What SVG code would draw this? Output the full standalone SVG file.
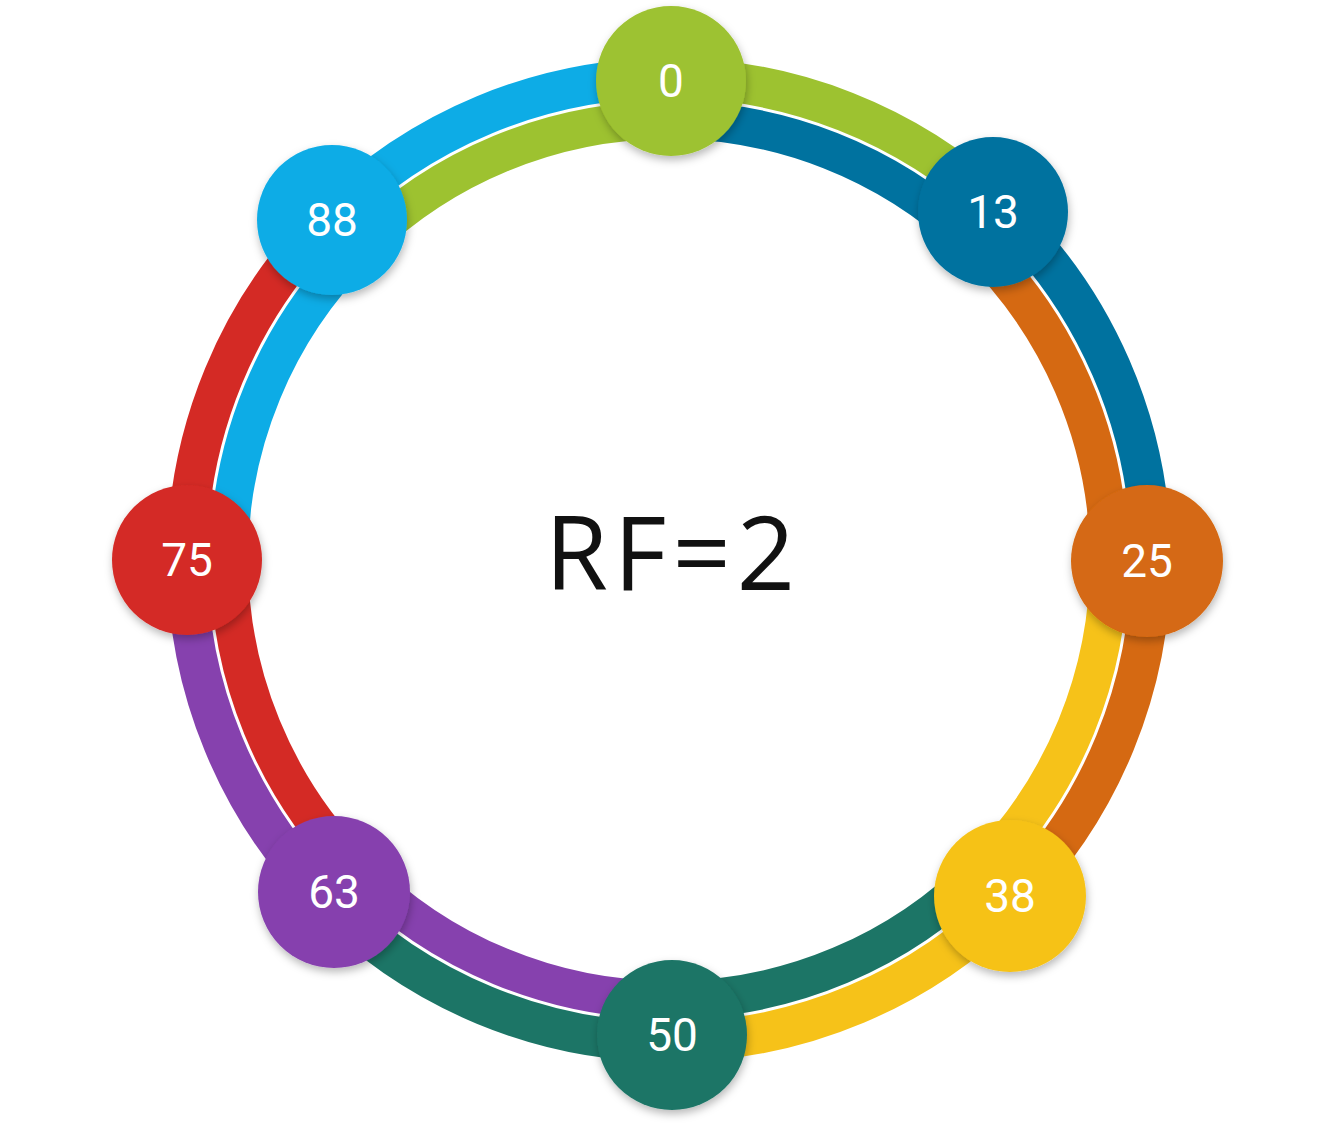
<svg xmlns="http://www.w3.org/2000/svg" width="1320" height="1131" viewBox="0 0 1320 1131">
  <style>
    .o { fill: none; stroke-width: 40; }
    .i { fill: none; stroke-width: 38; }
    .node { filter: url(#sh); }
    .lbl { font-family: Roboto, "Liberation Sans", sans-serif; font-size: 46px; fill: #ffffff; text-anchor: middle; }
    .title { font-family: "Open Sans", "Noto Sans", sans-serif; font-size: 102px; fill: #111111; text-anchor: middle; letter-spacing: 6px; }
  </style>
  <defs>
    <filter id="sh" x="-30%" y="-30%" width="160%" height="170%">
      <feDropShadow dx="1" dy="4" stdDeviation="4" flood-color="#000000" flood-opacity="0.28"/>
    </filter>
  </defs>
  <rect width="1320" height="1131" fill="#ffffff"/>
  <g id="connectors">
    <!-- outer bands -->
    <path class="o" stroke="#9DC230" d="M669,78 A482,482 0 0 1 997.7,207.5"/>
    <path class="o" stroke="#00729F" d="M997.7,207.5 A482,482 0 0 1 1151,560"/>
    <path class="o" stroke="#D56912" d="M1151,560 A482,482 0 0 1 1012.2,898.5"/>
    <path class="o" stroke="#F6C219" d="M1012.2,898.5 A482,482 0 0 1 672.4,1042"/>
    <path class="o" stroke="#1C7566" d="M672.4,1042 A482,482 0 0 1 326.4,899"/>
    <path class="o" stroke="#8641AE" d="M326.4,899 A482,482 0 0 1 187,560"/>
    <path class="o" stroke="#D42A25" d="M187,560 A482,482 0 0 1 328.2,219.2"/>
    <path class="o" stroke="#0DACE6" d="M328.2,219.2 A482,482 0 0 1 669,78"/>
    <!-- inner bands -->
    <path class="i" stroke="#00729F" d="M669,120 A440,440 0 0 1 969.1,238.2"/>
    <path class="i" stroke="#D56912" d="M969.1,238.2 A440,440 0 0 1 1109,560"/>
    <path class="i" stroke="#F6C219" d="M1109,560 A440,440 0 0 1 982.3,869"/>
    <path class="i" stroke="#1C7566" d="M982.3,869 A440,440 0 0 1 672.1,1000"/>
    <path class="i" stroke="#8641AE" d="M672.1,1000 A440,440 0 0 1 356.2,869.5"/>
    <path class="i" stroke="#D42A25" d="M356.2,869.5 A440,440 0 0 1 229,560"/>
    <path class="i" stroke="#0DACE6" d="M229,560 A440,440 0 0 1 357.9,248.9"/>
    <path class="i" stroke="#9DC230" d="M357.9,248.9 A440,440 0 0 1 669,120"/>
  </g>
  <g id="node-0"><circle class="node" cx="671" cy="81" r="75" fill="#9DC230"/><text class="lbl" x="671" y="97">0</text></g>
  <g id="node-13"><circle class="node" cx="993" cy="212" r="75" fill="#00729F"/><text class="lbl" x="993" y="228">13</text></g>
  <g id="node-25"><circle class="node" cx="1147" cy="561" r="76" fill="#D56912"/><text class="lbl" x="1147" y="577">25</text></g>
  <g id="node-38"><circle class="node" cx="1010" cy="896" r="76" fill="#F6C219"/><text class="lbl" x="1010" y="912">38</text></g>
  <g id="node-50"><circle class="node" cx="672" cy="1035" r="75" fill="#1C7566"/><text class="lbl" x="672" y="1051">50</text></g>
  <g id="node-63"><circle class="node" cx="334" cy="892" r="76" fill="#8641AE"/><text class="lbl" x="334" y="908">63</text></g>
  <g id="node-75"><circle class="node" cx="187" cy="560" r="75" fill="#D42A25"/><text class="lbl" x="187" y="576">75</text></g>
  <g id="node-88"><circle class="node" cx="332" cy="220" r="75" fill="#0DACE6"/><text class="lbl" x="332" y="236">88</text></g>
  <text class="title" x="673" y="590">RF=2</text>
</svg>
